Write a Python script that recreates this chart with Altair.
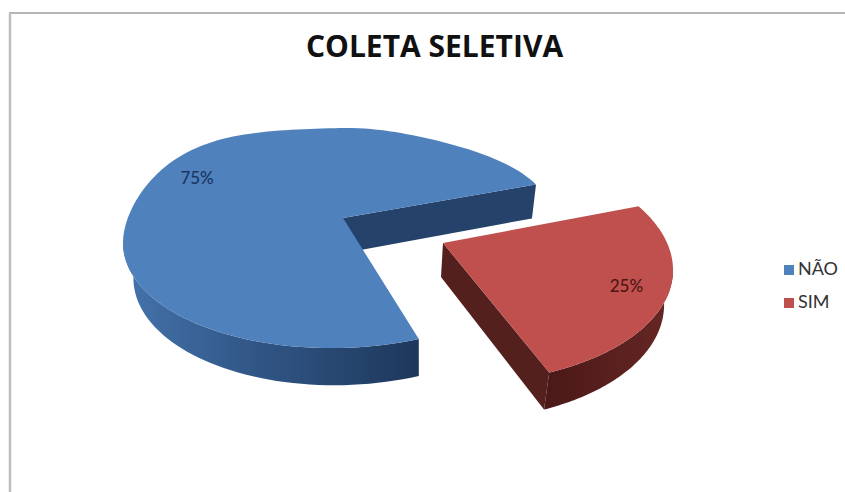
import altair as alt
import numpy as np
import pandas as pd

# Slice shares, in drawing order around the pie
labels = ["SIM", "NÃO"]
shares = [25, 75]
face_colors = ["#C0504D", "#4F81BD"]
wall_colors = ["#54201E", "#25426B"]
side_stops = [
    [("#4A1917", 0.0), ("#662724", 1.0)],
    [("#4473AC", 0.0), ("#33598A", 0.4), ("#1D375B", 1.0)],
]
text_colors = ["#4A1614", "#1B3560"]

# Perspective layout of each exploded slice (pixels on an 845x492 canvas)
layout = {
    "SIM": dict(cx=440, cy=263.6, a=233, b=120, k=6.4, apex=(443, 243), start=-23, skew=0,
                xp=376, sx=0.97, d=34, y0=243, sy=0.023, label=(0.80, 0.15)),
    "NÃO": dict(cx=341, cy=238, a=218, b=110, k=-5, apex=(343, 218), start=-17, skew=1,
                xp=420, sx=0.965, d=34, y0=183, sy=0.019, label=(-0.66, -0.565)),
}


def to_screen(z, e):
    u, v = z.real, z.imag
    y = e["cy"] + e["b"] * v + e["k"] * u
    # The far rim of the disc leans: fuller at the back left, flatter at the back right
    back = v < 0
    left = -45 * u**2 * v**2 * (back & (u < 0))
    right = 45 * u**2 * v**2 * np.clip(1 - u / 0.9, 0, None) * (back & (u > 0))
    return e["cx"] + e["a"] * u, y + e["skew"] * (left + right)


def slice_arc(e, begin, sweep, n=140):
    # Projective view of a disc: the disc's centre lands on the apex
    py = (e["apex"][1] - e["cy"] - e["k"] * (e["apex"][0] - e["cx"]) / e["a"]) / e["b"]
    p = complex((e["apex"][0] - e["cx"]) / e["a"], py)
    w = p * (1 - np.sqrt(1 - abs(p) ** 2)) / abs(p) ** 2
    z = np.exp(1j * np.radians(np.linspace(begin, begin + sweep, n)))
    return (z + w) / (1 + np.conj(w) * z)


def lowered(x, y, e):
    x, y = np.asarray(x, float), np.asarray(y, float)
    return e["xp"] + e["sx"] * (x - e["xp"]), y + e["d"] + e["sy"] * (y - e["y0"])


def frame(x, y, label):
    return pd.DataFrame({"x": x, "y": y, "i": np.arange(len(x)), "label": label})


X = alt.X("x:Q", axis=None, scale=alt.Scale(domain=[0, 845]))
Y = alt.Y("y:Q", axis=None, scale=alt.Scale(domain=[492, 0]))

layers = []
total = sum(shares)
text_rows = []
blocks = {}
for idx, (label, share) in enumerate(zip(labels, shares)):
    e = layout[label]
    begin = e["start"]
    offset = 360 * sum(shares[:idx]) / total
    sweep = 360 * share / total
    z = slice_arc(e, begin + offset, sweep)
    ax, ay = to_screen(z, e)
    apx, apy = e["apex"]

    # Inner wall along the slice's trailing cut
    wx = np.array([apx, ax[-1]])
    wy = np.array([apy, ay[-1]])
    lx, ly = lowered(wx, wy, e)
    wall = frame(np.r_[wx, lx[::-1]], np.r_[wy, ly[::-1]], label)

    # Outer rim along the lower half of the arc
    keep = z.imag >= -0.02
    ux, uy = ax[keep], ay[keep]
    dx, dy = lowered(ux, uy, e)
    rim = frame(np.r_[ux, dx[::-1]], np.r_[uy, dy[::-1]], label)

    # Top face
    face = frame(np.r_[apx, ax], np.r_[apy, ay], label)

    gradient = alt.LinearGradient(
        gradient="linear", x1=0, x2=1, y1=0, y2=0,
        stops=[alt.GradientStop(color=c, offset=o) for c, o in side_stops[idx]],
    )
    blocks[label] = [
        alt.Chart(wall).mark_line(fill=wall_colors[idx], strokeWidth=0).encode(x=X, y=Y, order="i:Q"),
        alt.Chart(rim).mark_line(fill=gradient, strokeWidth=0).encode(x=X, y=Y, order="i:Q"),
        alt.Chart(face).mark_line(strokeWidth=0).encode(
            x=X, y=Y, order="i:Q",
            fill=alt.Fill(
                "label:N",
                scale=alt.Scale(domain=["NÃO", "SIM"], range=[face_colors[1], face_colors[0]]),
                legend=alt.Legend(
                    title=None, orient="none", legendX=780, legendY=261,
                    symbolType="square", symbolSize=100, symbolStrokeWidth=0,
                    labelFont="Lato", labelFontSize=18, labelColor="#333333",
                    labelOffset=0, rowPadding=15, labelLimit=80,
                ),
            ),
        ),
    ]
    lu, lv = e["label"]
    text_rows.append(dict(
        x=e["cx"] + e["a"] * lu, y=e["cy"] + e["b"] * lv + e["k"] * lu,
        text=f"{share}%", color=text_colors[idx],
    ))

for label in ["NÃO", "SIM"]:
    layers.extend(blocks[label])

percent = alt.Chart(pd.DataFrame(text_rows)).mark_text(
    font="Lato", fontSize=17, fontWeight=500
).encode(x=X, y=Y, text="text:N", color=alt.Color("color:N", scale=None, legend=None))

# Thin grey frame along the top and left of the canvas
border_top = alt.Chart(pd.DataFrame({"a": [0]})).mark_rule(color="#B4B4B4", strokeWidth=2).encode(
    x=alt.value(9), x2=alt.value(845), y=alt.value(13)
)
border_left = alt.Chart(pd.DataFrame({"a": [0]})).mark_rule(color="#BEBEBE", strokeWidth=2.5).encode(
    x=alt.value(10), y=alt.value(13), y2=alt.value(492)
)

chart = alt.layer(border_top, border_left, *layers, percent).properties(
    width=845, height=492, padding=0, background="white",
    autosize=alt.AutoSizeParams(type="none"),
    title=alt.TitleParams(
        "COLETA SELETIVA", font="Open Sans", fontSize=30, fontWeight="bold", color="#111111",
        anchor="middle", dx=12, offset=-87, baseline="alphabetic",
    ),
).configure_view(stroke=None)

chart.save("out.html", embed_options={"renderer": "svg", "actions": False})
